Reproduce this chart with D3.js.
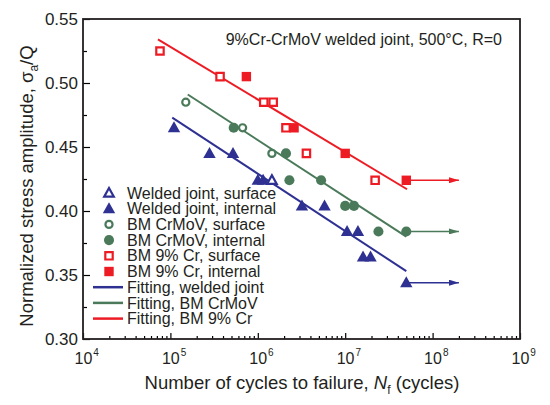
<!DOCTYPE html>
<html>
<head>
<meta charset="utf-8">
<script src="https://cdn.jsdelivr.net/npm/d3@7"></script>
<style>
  body { margin: 0; background: #fff; }
  text { font-family: Arial, "Liberation Sans", sans-serif; fill: #231f20; }
</style>
</head>
<body>
<div id="chart"></div>
<script>
// ---- data (N cycles, normalized stress) ----
var weldSurface = [[1.45e6, 0.424]];
var weldInternal = [[1.1e5, 0.465], [2.8e5, 0.445], [5.2e5, 0.445], [1.0e6, 0.424], [1.15e6, 0.424],
  [3.2e6, 0.404], [5.8e6, 0.404], [1.05e7, 0.384], [1.4e7, 0.384], [1.6e7, 0.364], [1.95e7, 0.364], [5e7, 0.344]];
var crmovSurface = [[1.5e5, 0.485], [6.7e5, 0.465], [1.45e6, 0.445]];
var crmovInternal = [[5.3e5, 0.465], [2.1e6, 0.445], [2.3e6, 0.424], [5.3e6, 0.424], [1.0e7, 0.404],
  [1.26e7, 0.404], [2.4e7, 0.384], [5e7, 0.384]];
var crSurface = [[7.6e4, 0.525], [3.7e5, 0.505], [1.17e6, 0.485], [1.5e6, 0.485], [2.1e6, 0.465],
  [3.6e6, 0.445], [2.2e7, 0.424]];
var crInternal = [[7.4e5, 0.505], [2.6e6, 0.465], [1.0e7, 0.445], [5e7, 0.424]];

var fitWeld = [[1.05e5, 0.473], [5e7, 0.353]];
var fitCrmov = [[1.58e5, 0.491], [5e7, 0.380]];
var fitCr = [[7.2e4, 0.534], [5.1e7, 0.417]];

// run-outs: start point, arrow end
var runouts = [
  { from: [5e7, 0.344], to: [2e8, 0.344], c: "blue" },
  { from: [5e7, 0.384], to: [2e8, 0.384], c: "green" },
  { from: [5e7, 0.424], to: [2e8, 0.424], c: "red" }
];

var yTicks = [0.30, 0.35, 0.40, 0.45, 0.50, 0.55];
var xDecades = [4, 5, 6, 7, 8, 9];

var colors = { blue: "#2e3192", green: "#4a7a5a", red: "#ed1c24" };

var legendItems = [
  { label: "Welded joint, surface", sym: "triangle", fill: false, c: "blue" },
  { label: "Welded joint, internal", sym: "triangle", fill: true, c: "blue" },
  { label: "BM CrMoV, surface", sym: "circle", fill: false, c: "green" },
  { label: "BM CrMoV, internal", sym: "circle", fill: true, c: "green" },
  { label: "BM 9% Cr, surface", sym: "square", fill: false, c: "red" },
  { label: "BM 9% Cr, internal", sym: "square", fill: true, c: "red" },
  { label: "Fitting, welded joint", sym: "line", c: "blue" },
  { label: "Fitting, BM CrMoV", sym: "line", c: "green" },
  { label: "Fitting, BM 9% Cr", sym: "line", c: "red" }
];

// ---- layout ----
var W = 550, H = 405;
var margin = { top: 19, right: 30, bottom: 66, left: 83 };
var width = W - margin.left - margin.right,
  height = H - margin.top - margin.bottom;

var svg = d3.select("#chart").append("svg")
  .attr("width", W).attr("height", H);

var g = svg.append("g")
  .attr("transform", "translate(" + margin.left + "," + margin.top + ")");

var x = d3.scaleLog().domain([1e4, 1e9]).range([0, width]);
var y = d3.scaleLinear().domain([0.30, 0.55]).range([height, 0]);

// defs: arrow heads
var defs = svg.append("defs");
Object.keys(colors).forEach(function (k) {
  defs.append("marker")
    .attr("id", "arrow-" + k)
    .attr("viewBox", "0 0 10 6")
    .attr("refX", 10).attr("refY", 3)
    .attr("markerWidth", 10).attr("markerHeight", 6)
    .attr("markerUnits", "userSpaceOnUse")
    .attr("orient", "auto")
    .append("path")
    .attr("d", "M0,0 L10,3 L0,6 Z")
    .attr("fill", colors[k]);
});

// ---- axes (ticks inside) ----
var minorX = [];
xDecades.slice(0, -1).forEach(function (d) {
  for (var m = 2; m <= 9; m++) minorX.push(m * Math.pow(10, d));
});

g.append("g")
  .attr("transform", "translate(0," + height + ")")
  .call(d3.axisBottom(x).tickValues(minorX).tickSize(-3).tickFormat(""))
  .call(function (s) { s.select(".domain").remove(); s.selectAll("line").attr("stroke-width", 1.2); });

var xMajor = g.append("g")
  .attr("transform", "translate(0," + height + ")")
  .call(d3.axisBottom(x).tickValues(xDecades.map(function (d) { return Math.pow(10, d); }))
    .tickSize(-6).tickFormat(""));
xMajor.select(".domain").remove();
xMajor.selectAll("line").attr("stroke-width", 1.2);
xMajor.selectAll(".tick").each(function (d) {
  // "10" centred on the tick, exponent raised to its right
  var t = d3.select(this).select("text")
    .attr("x", -9).attr("y", 25).attr("dy", null)
    .attr("text-anchor", "start")
    .style("font-size", "16px").attr("fill", "#231f20");
  t.append("tspan").text("10");
  t.append("tspan").attr("dx", 1).attr("dy", -8).style("font-size", "10px").text(Math.round(Math.log10(d)));
});

var minorY = [0.325, 0.375, 0.425, 0.475, 0.525];
g.append("g")
  .call(d3.axisLeft(y).tickValues(minorY).tickSize(-4).tickFormat(""))
  .call(function (s) { s.select(".domain").remove(); s.selectAll("line").attr("stroke-width", 1.2); });

var yAxis = g.append("g")
  .call(d3.axisLeft(y).tickValues(yTicks).tickSize(-7).tickFormat(d3.format(".2f")));
yAxis.select(".domain").remove();
yAxis.selectAll("line").attr("stroke-width", 1.2);
yAxis.selectAll("text").attr("x", -5).style("font-size", "17px").attr("fill", "#231f20");

// frame
g.append("rect")
  .attr("width", width).attr("height", height)
  .attr("fill", "none").attr("stroke", "#231f20").attr("stroke-width", 1.8);

// ---- marks ----
var line = d3.line()
  .x(function (d) { return x(d[0]); })
  .y(function (d) { return y(d[1]); });

[[fitWeld, "blue"], [fitCrmov, "green"], [fitCr, "red"]].forEach(function (f) {
  g.append("path").datum(f[0]).attr("d", line)
    .attr("fill", "none").attr("stroke", colors[f[1]]).attr("stroke-width", 2);
});

g.selectAll(".runout").data(runouts).enter().append("line")
  .attr("x1", function (d) { return x(d.from[0]); })
  .attr("y1", function (d) { return y(d.from[1]); })
  .attr("x2", function (d) { return x(d.to[0]); })
  .attr("y2", function (d) { return y(d.to[1]); })
  .attr("stroke", function (d) { return colors[d.c]; })
  .attr("stroke-width", 1.5)
  .attr("marker-end", function (d) { return "url(#arrow-" + d.c + ")"; });

function symbolPath(sym, fill) {
  if (sym === "triangle") return fill ? "M0,-6.5 L6.2,4.5 L-6.2,4.5 Z" : "M0,-5 L4.8,3.6 L-4.8,3.6 Z";
  if (sym === "circle") return fill ? d3.symbol(d3.symbolCircle, 80)() : d3.symbol(d3.symbolCircle, 40)();
  return fill ? "M-4.7,-4.7 H4.7 V4.7 H-4.7 Z" : "M-3.7,-3.7 H3.7 V3.7 H-3.7 Z";
}

function drawPoints(data, sym, fill, c) {
  g.selectAll(null).data(data).enter().append("path")
    .attr("transform", function (d) { return "translate(" + x(d[0]) + "," + y(d[1]) + ")"; })
    .attr("d", symbolPath(sym, fill))
    .attr("fill", fill ? colors[c] : "#fff")
    .attr("stroke", colors[c])
    .attr("stroke-width", fill ? 0 : 2.2);
}

drawPoints(crSurface, "square", false, "red");
drawPoints(crInternal, "square", true, "red");
drawPoints(crmovSurface, "circle", false, "green");
drawPoints(crmovInternal, "circle", true, "green");
drawPoints(weldSurface, "triangle", false, "blue");
drawPoints(weldInternal, "triangle", true, "blue");

// ---- legend ----
var lg = g.append("g").attr("transform", "translate(26,174)");
legendItems.forEach(function (it, i) {
  var row = lg.append("g").attr("transform", "translate(0," + (i * 15.7) + ")");
  if (it.sym === "line") {
    row.append("line").attr("x1", -16).attr("x2", 14)
      .attr("stroke", colors[it.c]).attr("stroke-width", 2.5);
  } else {
    row.append("path").attr("d", symbolPath(it.sym, it.fill))
      .attr("fill", it.fill ? colors[it.c] : "#fff")
      .attr("stroke", colors[it.c])
      .attr("stroke-width", it.fill ? 0 : 2.2);
  }
  row.append("text").attr("x", 18).attr("dy", "0.35em")
    .style("font-size", "16px").text(it.label);
});

// annotation
g.append("text")
  .attr("x", width - 18).attr("y", 26)
  .attr("text-anchor", "end")
  .style("font-size", "16px")
  .text("9%Cr-CrMoV welded joint, 500\u00b0C, R=0");

// ---- axis titles ----
var xt = svg.append("text")
  .attr("x", 302).attr("y", 389)
  .attr("text-anchor", "middle").style("font-size", "18.5px");
xt.append("tspan").text("Number of cycles to failure, ");
xt.append("tspan").style("font-style", "italic").text("N");
xt.append("tspan").attr("dy", 5).style("font-size", "12px").text("f");
xt.append("tspan").attr("dy", -5).text(" (cycles)");

var yt = svg.append("text")
  .attr("transform", "translate(33,186) rotate(-90)")
  .attr("text-anchor", "middle").style("font-size", "18.5px");
yt.append("tspan").text("Normalized stress amplitude, \u03c3");
yt.append("tspan").attr("dy", 5).style("font-size", "12px").text("a");
yt.append("tspan").attr("dy", -5).text("/Q");
</script>
</body>
</html>
